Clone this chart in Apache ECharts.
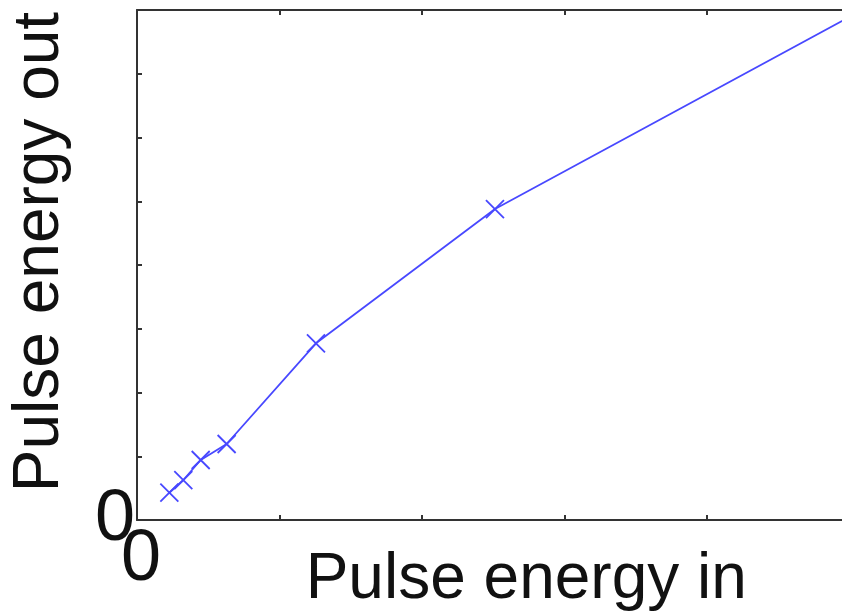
<!DOCTYPE html>
<html>
<head>
<meta charset="utf-8">
<script src="https://cdn.jsdelivr.net/npm/echarts@6/dist/echarts.min.js"></script>
<style>
  html, body { margin: 0; padding: 0; background: #fff; }
  #chart { width: 842px; height: 616px; }
</style>
</head>
<body>
<div id="chart"></div>
<script>
var energyIn  = [0.227, 0.325, 0.447, 0.629, 1.256, 2.512, 5.0];
var energyOut = [0.428, 0.627, 0.941, 1.192, 2.772, 4.878, 7.89];
var xTickLabels = ['0'];
var yTickLabels = ['0'];

var myChart = echarts.init(document.getElementById('chart'));
var axisColor = '#333';
var font = 'Liberation Sans, Arial, sans-serif';
var cross = 'path://M0,0L10,10M10,0L0,10';

var points = energyIn.map(function(x, i) {
    var item = { value: [x, energyOut[i]] };
    if (i === energyIn.length - 1) item.symbol = 'none';
    return item;
});

var option = {
    animation: false,
    grid: {
        left: 137,
        top: 10,
        right: -7.5,
        bottom: 96,
        containLabel: false,
        outerBoundsMode: 'none'
    },
    xAxis: [
        {
            type: 'value',
            position: 'bottom',
            min: 0,
            max: 5,
            interval: 1,
            name: 'Pulse energy in',
            nameLocation: 'middle',
            nameGap: 28,
            nameMoveOverlap: false,
            nameTextStyle: {
                fontFamily: font,
                fontSize: 64,
                color: '#111',
                padding: [0, 0, 0, 66]
            },
            axisLine: { show: true, onZero: false, lineStyle: { color: axisColor, width: 2 } },
            axisTick: { show: true, inside: true, length: 5, lineStyle: { color: axisColor, width: 2 } },
            axisLabel: {
                fontFamily: font,
                fontSize: 72,
                color: '#111',
                margin: 4,
                padding: [0, 0, 0, 8],
                formatter: function(v) { return v === 0 ? xTickLabels[0] : ''; }
            },
            splitLine: { show: false }
        },
        {
            type: 'value',
            position: 'top',
            min: 0,
            max: 5,
            interval: 1,
            axisLine: { show: true, onZero: false, lineStyle: { color: axisColor, width: 2 } },
            axisTick: { show: true, inside: true, length: 5, lineStyle: { color: axisColor, width: 2 } },
            axisLabel: { show: false },
            splitLine: { show: false }
        }
    ],
    yAxis: [
        {
            type: 'value',
            min: 0,
            max: 8,
            interval: 1,
            name: 'Pulse energy out',
            nameLocation: 'middle',
            nameGap: 65,
            nameMoveOverlap: false,
            nameTextStyle: {
                fontFamily: font,
                fontSize: 64,
                color: '#111',
                padding: [0, 0, 0, 26]
            },
            axisLine: { show: true, onZero: false, lineStyle: { color: axisColor, width: 2 } },
            axisTick: { show: true, inside: true, length: 5, lineStyle: { color: axisColor, width: 2 } },
            axisLabel: {
                fontFamily: font,
                fontSize: 72,
                color: '#111',
                margin: 2,
                formatter: function(v) { return v === 0 ? yTickLabels[0] : ''; }
            },
            splitLine: { show: false }
        }
    ],
    series: [
        {
            type: 'line',
            data: points,
            symbol: cross,
            symbolSize: 18,
            showAllSymbol: true,
            clip: false,
            lineStyle: { color: '#4848ff', width: 1.8 },
            itemStyle: { color: 'none', borderColor: '#4848ff', borderWidth: 1.8 }
        }
    ]
};
myChart.setOption(option);
window.onresize = myChart.resize;
</script>
</body>
</html>
